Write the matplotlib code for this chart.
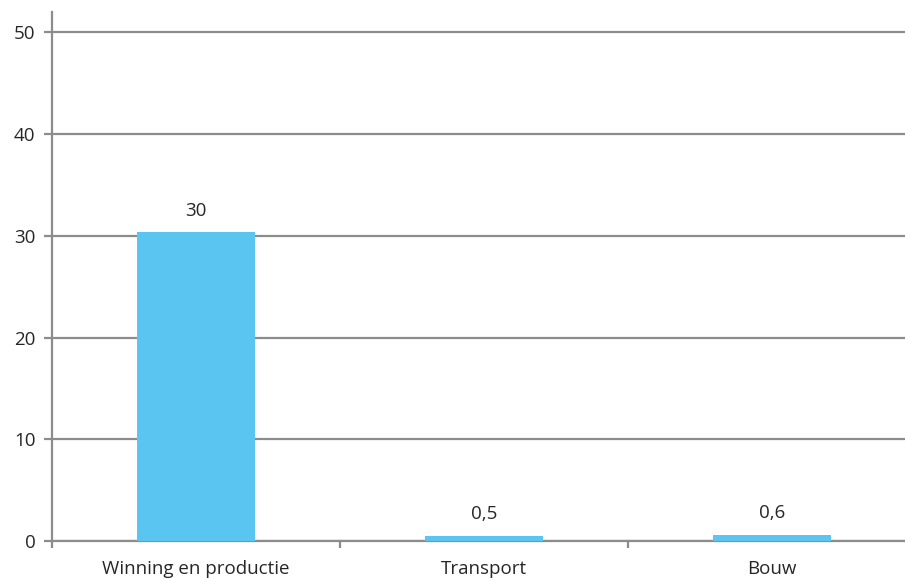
import matplotlib
matplotlib.use("Agg")
import matplotlib.pyplot as plt
import numpy as np

categories = ["Winning en productie", "Transport", "Bouw"]
values = [30.35, 0.5, 0.6]
value_labels = ["30", "0,5", "0,6"]
yticks = [0, 10, 20, 30, 40, 50]

BAR = "#5BC5F2"
GRID = "#8C8C8C"
TXT = "#262626"

plt.rcParams["font.family"] = ["Open Sans", "DejaVu Sans"]

W, H = 905, 578
fig = plt.figure(figsize=(W / 100, H / 100), dpi=100)
x0, x1, y0, y1 = 52, 916, 541, 12
ax = fig.add_axes([x0 / W, (H - y0) / H, (x1 - x0) / W, (y0 - y1) / H])

x = np.arange(len(categories))
ax.bar(x, values, width=0.41, color=BAR, zorder=3)
for xi, v, lab in zip(x, values, value_labels):
    ax.annotate(lab, (xi, v), xytext=(0, 9), textcoords="offset points",
                ha="center", va="bottom", fontsize=13.5, color=TXT)

ax.set_xlim(-0.5, len(categories) - 0.5)
ax.set_ylim(0, 52)
ax.set_yticks(yticks)
ax.set_yticklabels([str(t) for t in yticks])
ax.yaxis.grid(True, color=GRID, linewidth=1.6, zorder=0)
ax.set_axisbelow(True)

ax.set_xticks(x)
ax.set_xticklabels(categories)
ax.set_xticks(np.arange(len(categories) + 1) - 0.5, minor=True)
ax.tick_params(axis="x", which="major", length=0, pad=14, labelsize=13.5, labelcolor=TXT)
ax.tick_params(axis="x", which="minor", length=5, width=1.6, color=GRID)
ax.tick_params(axis="y", length=6, width=1.6, color=GRID, pad=6, labelsize=13.5, labelcolor=TXT)

for s in ["top", "right"]:
    ax.spines[s].set_visible(False)
for s in ["left", "bottom"]:
    ax.spines[s].set_color(GRID)
    ax.spines[s].set_linewidth(1.6)

fig.savefig("out.png", dpi=100, facecolor="white")
